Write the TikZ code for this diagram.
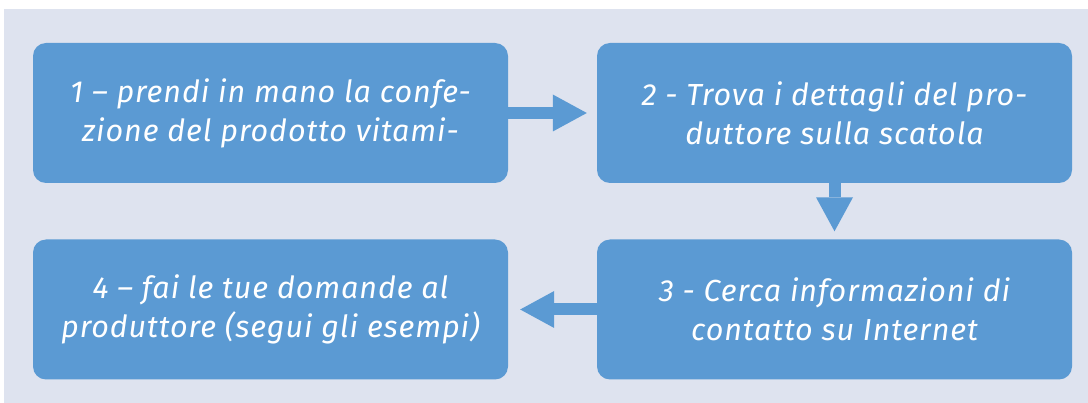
\documentclass[tikz,border=0pt]{standalone}
\usepackage{fontspec}
\setmainfont{Fira Sans}[LetterSpace=3]
\usetikzlibrary{arrows.meta}
\definecolor{stepblue}{RGB}{91,154,211}
\definecolor{panelgrey}{RGB}{222,227,239}
\begin{document}
\begin{tikzpicture}[x=1pt,y=-1pt,
    stepbox/.style={shape=rectangle,rounded corners=13pt,fill=stepblue,text=white,
        minimum width=475pt,minimum height=140pt,align=center,
        font=\itshape\fontsize{30.5}{39}\selectfont},
    flow/.style={color=stepblue,line width=12pt,
        -{Triangle[length=34pt,width=37pt,line width=0pt]}}]
        \useasboundingbox (0,0) rectangle (1088,403);
        \fill[white] (0,0) rectangle (1088,403);
        \fill[panelgrey] (4,9.5) rectangle (1088,403);
        \node[stepbox] (S1) at (270.5,113) {1 – prendi in mano la confe-\\zione del prodotto vitami-};
        \node[stepbox] (S2) at (834.5,113) {2 - Trova i dettagli del pro-\\duttore sulla scatola};
        \node[stepbox] (S3) at (834.5,309.5) {3 - Cerca informazioni di\\contatto su Internet};
        \node[stepbox] (S4) at (270.5,309.5) {4 – fai le tue domande al\\produttore (segui gli esempi)};

        \path [flow, shorten >=10pt] (S1) edge (S2);
        \path [flow, shorten >=8pt] (S2) edge (S3);
        \path [flow, shorten >=12pt] (S3) edge (S4);
    \end{tikzpicture}
\end{document}
